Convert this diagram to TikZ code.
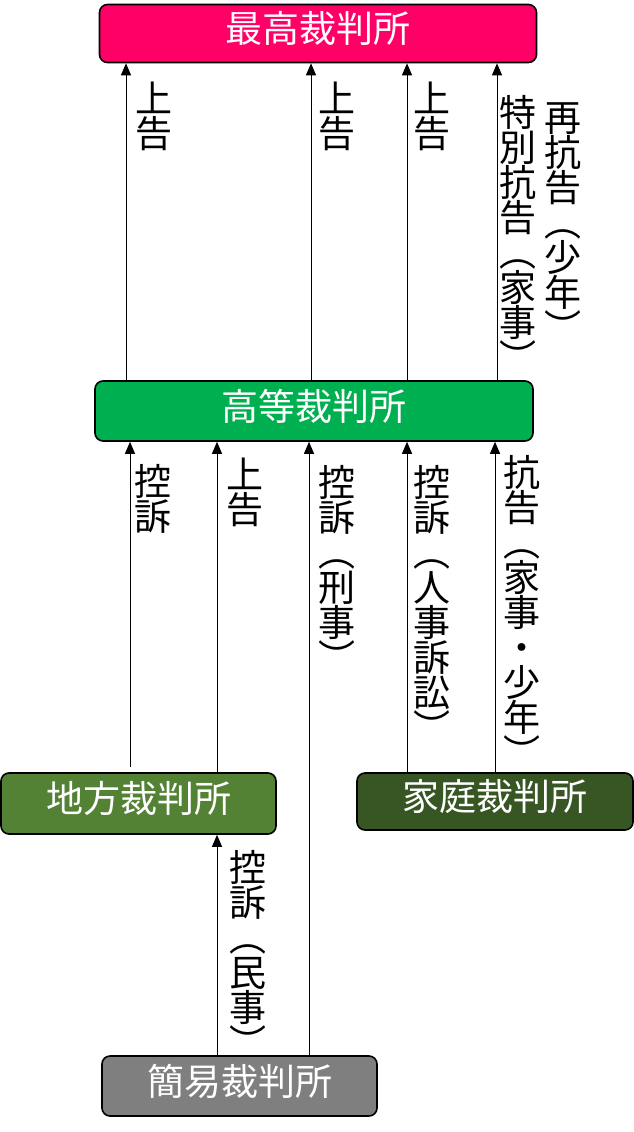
\documentclass[tikz,border=0pt]{standalone}
\usepackage{fontspec}
\setmainfont{Noto Sans CJK JP}
\usetikzlibrary{arrows.meta}

\definecolor{supremered}{HTML}{FF0066}
\definecolor{highgreen}{HTML}{00B050}
\definecolor{districtgreen}{HTML}{548235}
\definecolor{familygreen}{HTML}{375623}
\definecolor{summarygray}{HTML}{7F7F7F}

\newcommand\vlabelfont{\fontsize{37}{35}\selectfont\lineskiplimit-20pt\relax}

\tikzset{
  court/.style={draw=black, line width=1.6pt, rounded corners=8pt, text=white,
    inner sep=0pt, font=\fontsize{37}{40}\selectfont,
    text height=30pt, text depth=12pt},
  appeal/.style={line width=1pt, -{Triangle[length=12pt,width=10pt]}},
  vlabel/.style={anchor=north, align=center, inner sep=0pt, font=\vlabelfont},
}

\begin{document}
\begin{tikzpicture}[x=1pt,y=-1pt]
\useasboundingbox (0,0) rectangle (634,1132);

\coordinate (t1) at (126,0);
\coordinate (t2) at (311,0);
\coordinate (t3) at (407,0);
\coordinate (t4) at (497,0);

\coordinate (m1) at (130,767);
\coordinate (m2) at (217,0);
\coordinate (m3) at (309,0);
\coordinate (m4) at (407,0);
\coordinate (m5) at (495,0);

\node [court, fill=supremered, minimum width=437pt, minimum height=58pt] (supreme) at (318,33.5) {最高裁判所};
\node [court, fill=highgreen, minimum width=438pt, minimum height=60pt] (high) at (314,411) {高等裁判所};
\node [court, fill=districtgreen, minimum width=275pt, minimum height=61pt] (district) at (138.5,803.5) {地方裁判所};
\node [court, fill=familygreen, minimum width=276pt, minimum height=57pt] (family) at (495,801.5) {家庭裁判所};
\node [court, fill=summarygray, minimum width=275pt, minimum height=60pt] (summary) at (239.5,1086) {簡易裁判所};

\draw [appeal] (high.north -| t1) -- (supreme.south -| t1);
\draw [appeal] (high.north -| t2) -- (supreme.south -| t2);
\draw [appeal] (high.north -| t3) -- (supreme.south -| t3);
\draw [appeal] (high.north -| t4) -- (supreme.south -| t4);

\draw [appeal] (m1) -- (high.south -| m1);
\draw [appeal] (district.north -| m2) -- (high.south -| m2);
\draw [appeal] (summary.north -| m3) -- (high.south -| m3);
\draw [appeal] (family.north -| m4) -- (high.south -| m4);
\draw [appeal] (family.north -| m5) -- (high.south -| m5);

\draw [appeal] (summary.north -| m2) -- (district.south -| m2);

\node [vlabel] (lbl-t1) at (154,82) {上\\告};
\node [vlabel] (lbl-t2) at (337,82) {上\\告};
\node [vlabel] (lbl-t3) at (432,82) {上\\告};
\node [vlabel] (lbl-t4a) at (518,95) {特\\別\\抗\\告\\︵\\家\\事\\︶};
\node [vlabel] (lbl-t4b) at (563,102) {再\\抗\\告\\︵\\少\\年\\︶};

\node [vlabel] (lbl-m1) at (153,464) {控\\訴};
\node [vlabel] (lbl-m2) at (245,458) {上\\告};
\node [vlabel] (lbl-m3) at (337,465) {控\\訴\\︵\\刑\\事\\︶};
\node [vlabel] (lbl-m4) at (432,465) {控\\訴\\︵\\人\\事\\訴\\訟\\︶};
\node [vlabel] (lbl-m5) at (522,455) {抗\\告\\︵\\家\\事\\・\\少\\年\\︶};

\node [vlabel] (lbl-b1) at (248,850) {控\\訴\\︵\\民\\事\\︶};

\end{tikzpicture}
\end{document}
